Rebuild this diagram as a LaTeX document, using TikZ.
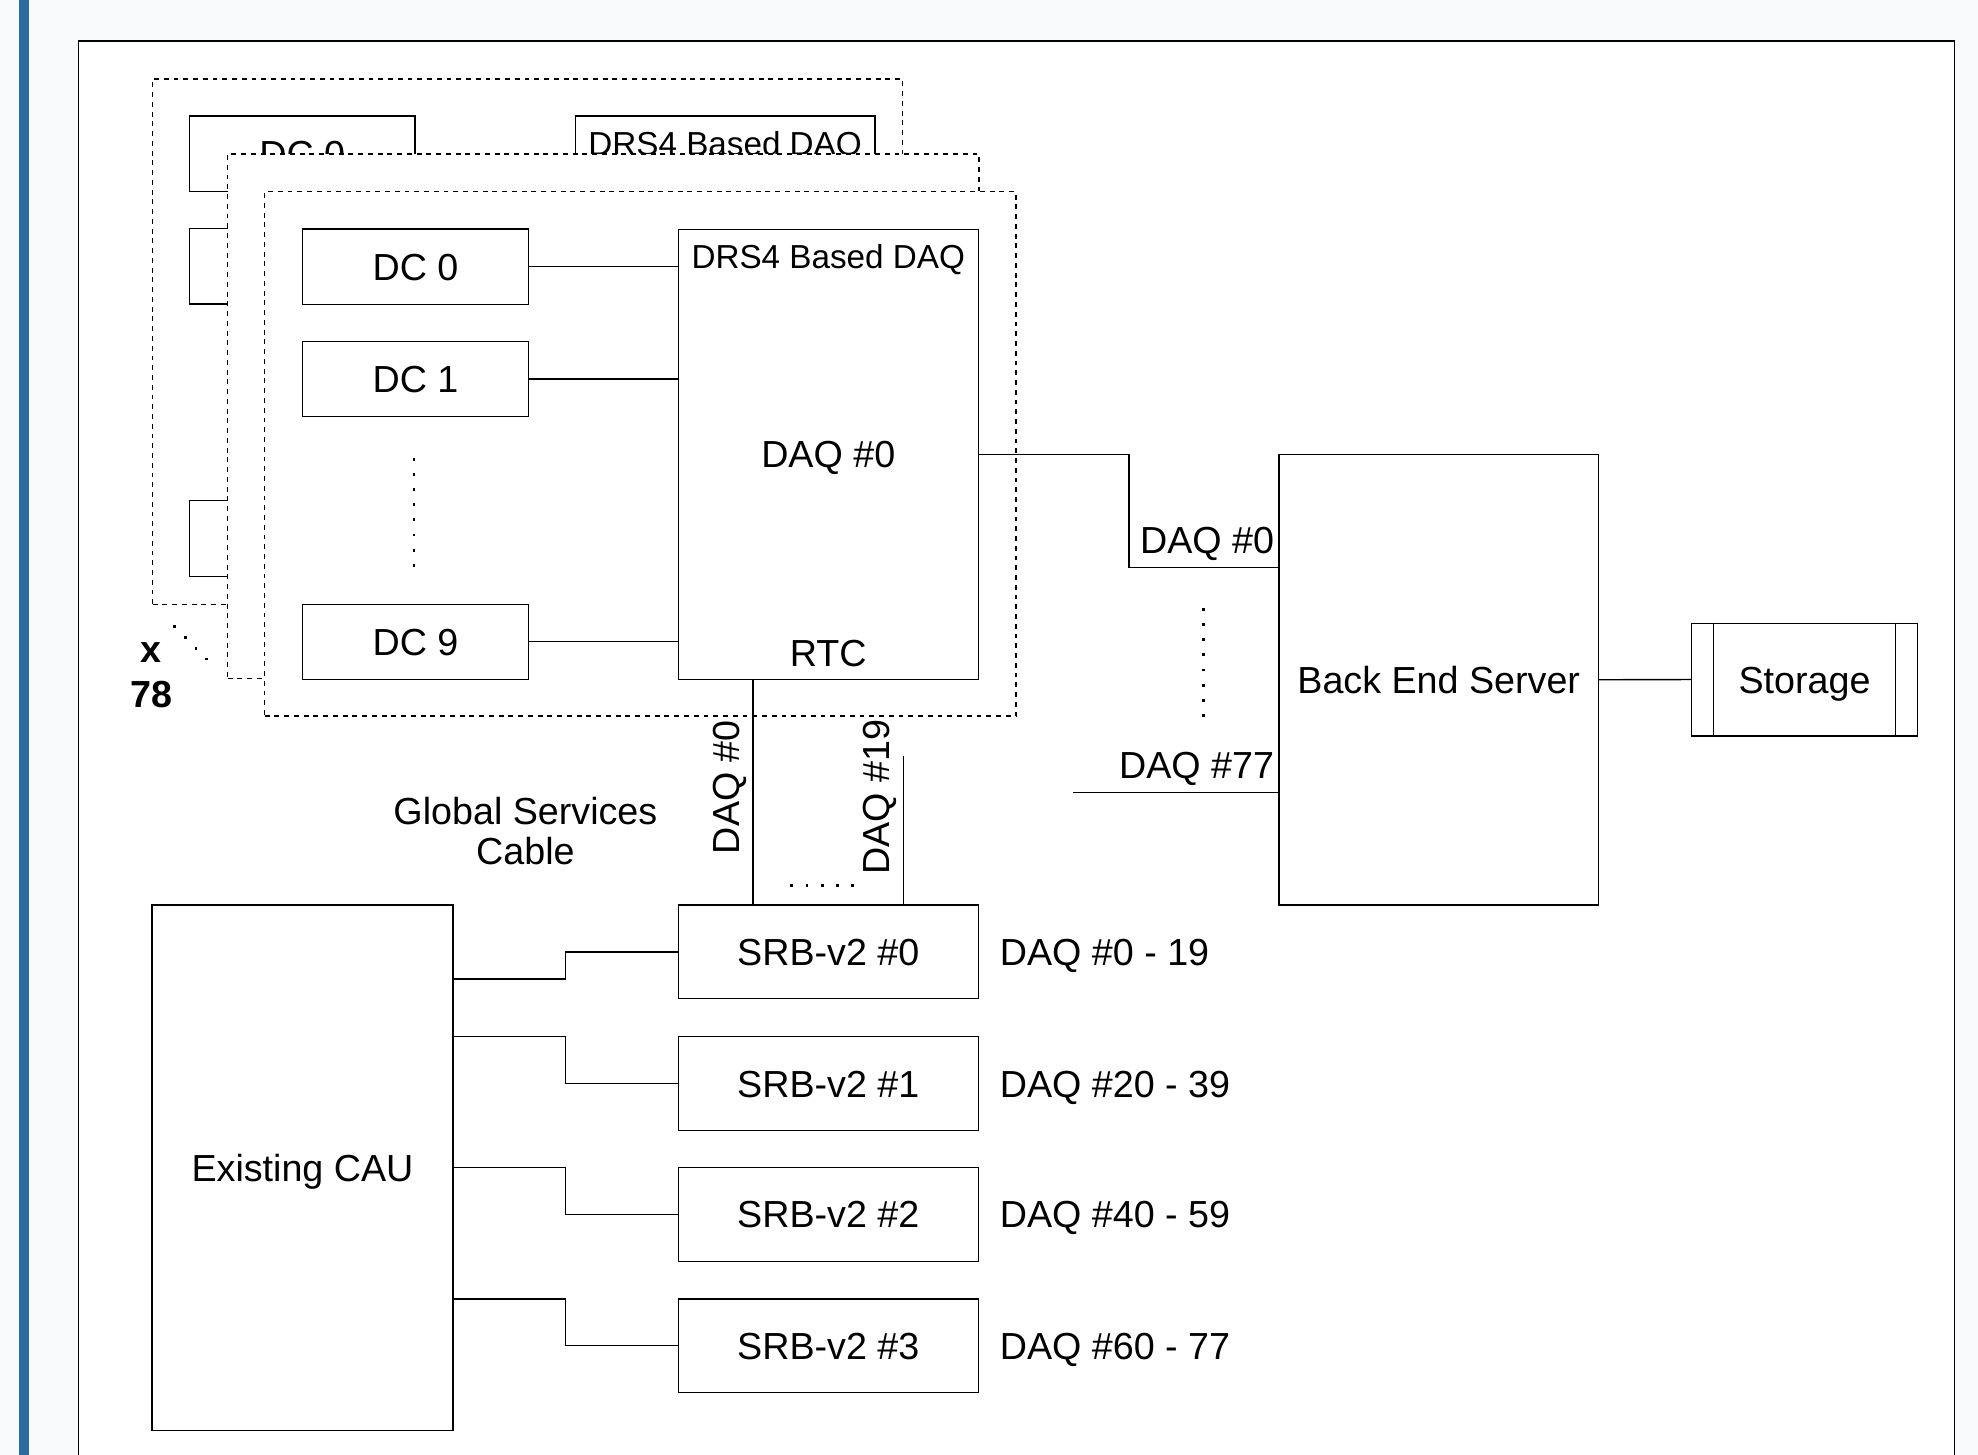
\documentclass[tikz,border=0pt]{standalone}
\usepackage{fontspec}
\setmainfont{Liberation Sans}
\usetikzlibrary{positioning}
\definecolor{pagebg}{RGB}{248,250,252}
\definecolor{sidebar}{RGB}{43,108,160}

\begin{document}
\begin{tikzpicture}[x=0.02cm, y=-0.02cm, line width=0.6pt,
    every node/.style={font=\fontsize{17}{18}\selectfont},
    sz/.style 2 args={minimum width={#1*0.02cm}, minimum height={#2*0.02cm}},
    box/.style={draw, fill=white, inner sep=0pt, text height=12.17pt, text depth=0pt},
    layer/.style={draw, fill=white, inner sep=0pt, dash pattern=on 2.2pt off 2.2pt},
    lbl/.style={inner sep=0pt, text height=12.17pt, text depth=0pt},
    ttl/.style={inner sep=0pt, text height=10.74pt, text depth=0pt, font=\fontsize{15}{18}\selectfont}]
  % page, side bar and frame
  \useasboundingbox (0,0) rectangle (1568,1153);
  \fill[pagebg] (0,0) rectangle (1568,1153);
  \fill[sidebar] (15.2,0) rectangle (22.8,1153);
  \draw[fill=white] (62,32.5) rectangle (1549.5,1180);

  % third DAQ copy (almost hidden)
  \node[layer, sz={594.4}{416.4}] (layerc) at (418.2,270.8) {};
  \node[box, sz={178.8}{60}] (cdc0) at (239.6,122) {DC 0};
  \node[box, sz={178.8}{60}] (cdc1) at (239.6,211) {};
  \node[box, sz={178.8}{60}] (cdc9) at (239.6,427) {};
  \node[box, sz={237.6}{357}] (cdaq) at (574.8,270.5) {};
  \node[ttl, below=7pt of cdaq.north] (cdaqtitle) {DRS4 Based DAQ};

  % second DAQ copy
  \node[layer, sz={595.5}{416}] (layerb) at (478.25,330) {};

  % front DAQ copy
  \node[layer, sz={595.6}{415.6}] (layera) at (507.6,359.8) {};
  \node[box, sz={178.8}{59.5}] (dc0) at (329.4,211.4) {DC 0};
  \node[box, sz={178.8}{59.5}] (dc1) at (329.4,300.55) {DC 1};
  \node[box, sz={178.8}{59.5}] (dc9) at (329.4,508.75) {DC 9};
  \node[box, sz={237.8}{356.7}] (daq0) at (656.6,360.15) {DAQ \#0};
  \node[ttl, below=7pt of daq0.north] (drstitle) {DRS4 Based DAQ};
  \node[lbl, above=6pt of daq0.south] (rtc) {RTC};
  \foreach \y in {363,375,...,447}
    \fill (327,\y) rectangle ++(2.2,2.2);
  \draw (dc0.east) -- (dc0.east -| daq0.west);
  \draw (dc1.east) -- (dc1.east -| daq0.west);
  \draw (dc9.east) -- (dc9.east -| daq0.west);

  % x 78
  \node[font=\bfseries\fontsize{17}{20.3}\selectfont, align=center, inner sep=0pt] (copies) at (120,535.4) {x\\78};
  \foreach \i in {0,...,3}
    \fill ({137.2+8.5*\i},{495.8+8.5*\i}) rectangle ++(2.2,2.2);

  % back end server and storage
  \node[box, sz={253}{357.2}] (bes) at (1140.5,538.8) {Back End Server};
  \node[box, sz={179}{89.4}] (storage) at (1430.5,538.7) {Storage};
  \draw ([xshift=0.36cm]storage.north west) -- ([xshift=0.36cm]storage.south west);
  \draw ([xshift=-0.36cm]storage.north east) -- ([xshift=-0.36cm]storage.south east);
  \draw (bes.east) -- (storage.west);
  \coordinate (bend0) at (895,450);
  \draw (daq0.east) -| (bend0) -- (bend0 -| bes.west);
  \node[lbl, anchor=base east] (besdaq0) at (1010.5,439) {DAQ \#0};
  \foreach \y in {482,494,...,566}
    \fill (953,\y) rectangle ++(2.2,2.2);
  \coordinate (end77) at (850.6,628);
  \draw (end77) -- (end77 -| bes.west);
  \node[lbl, anchor=base east] (besdaq77) at (1010.5,617) {DAQ \#77};

  % SRB-v2 boards
  \foreach \n/\yc/\lo/\hi in {0/754.55/0/19, 1/858.95/20/39, 2/962.75/40/59, 3/1066.75/60/77} {
    \node[box, sz={237.8}{74.3}] (srb\n) at (656.6,\yc) {SRB-v2 \#\n};
    \node[lbl, anchor=west, right=0.32cm of srb\n.east] (srbdaq\n) {DAQ \#\lo\ - \hi};
  }

  % global services cable
  \draw (daq0.south -| 597,0) -- (srb0.north -| 597,0);
  \coordinate (end19) at (716,599);
  \draw (end19) -- (end19 |- srb0.north);
  \node[lbl, rotate=90] (gsdaq0) at (575.5,624) {DAQ \#0};
  \node[lbl, rotate=90] (gsdaq19) at (694.5,632) {DAQ \#19};
  \foreach \x in {626.6,638.6,...,674.6}
    \fill (\x,700.6) rectangle ++(2.2,2.2);
  \node[align=center] (gscable) at (416.5,659) {Global Services\\Cable};

  % existing CAU
  \node[box, sz={238.4}{416.6}] (cau) at (239.8,925.7) {Existing CAU};
  \foreach \n/\y in {0/776, 1/821.8, 2/925.6, 3/1029.6}
    \draw (cau.east |- 0,\y) -- (448.4,\y) |- (srb\n.west);
\end{tikzpicture}
\end{document}
